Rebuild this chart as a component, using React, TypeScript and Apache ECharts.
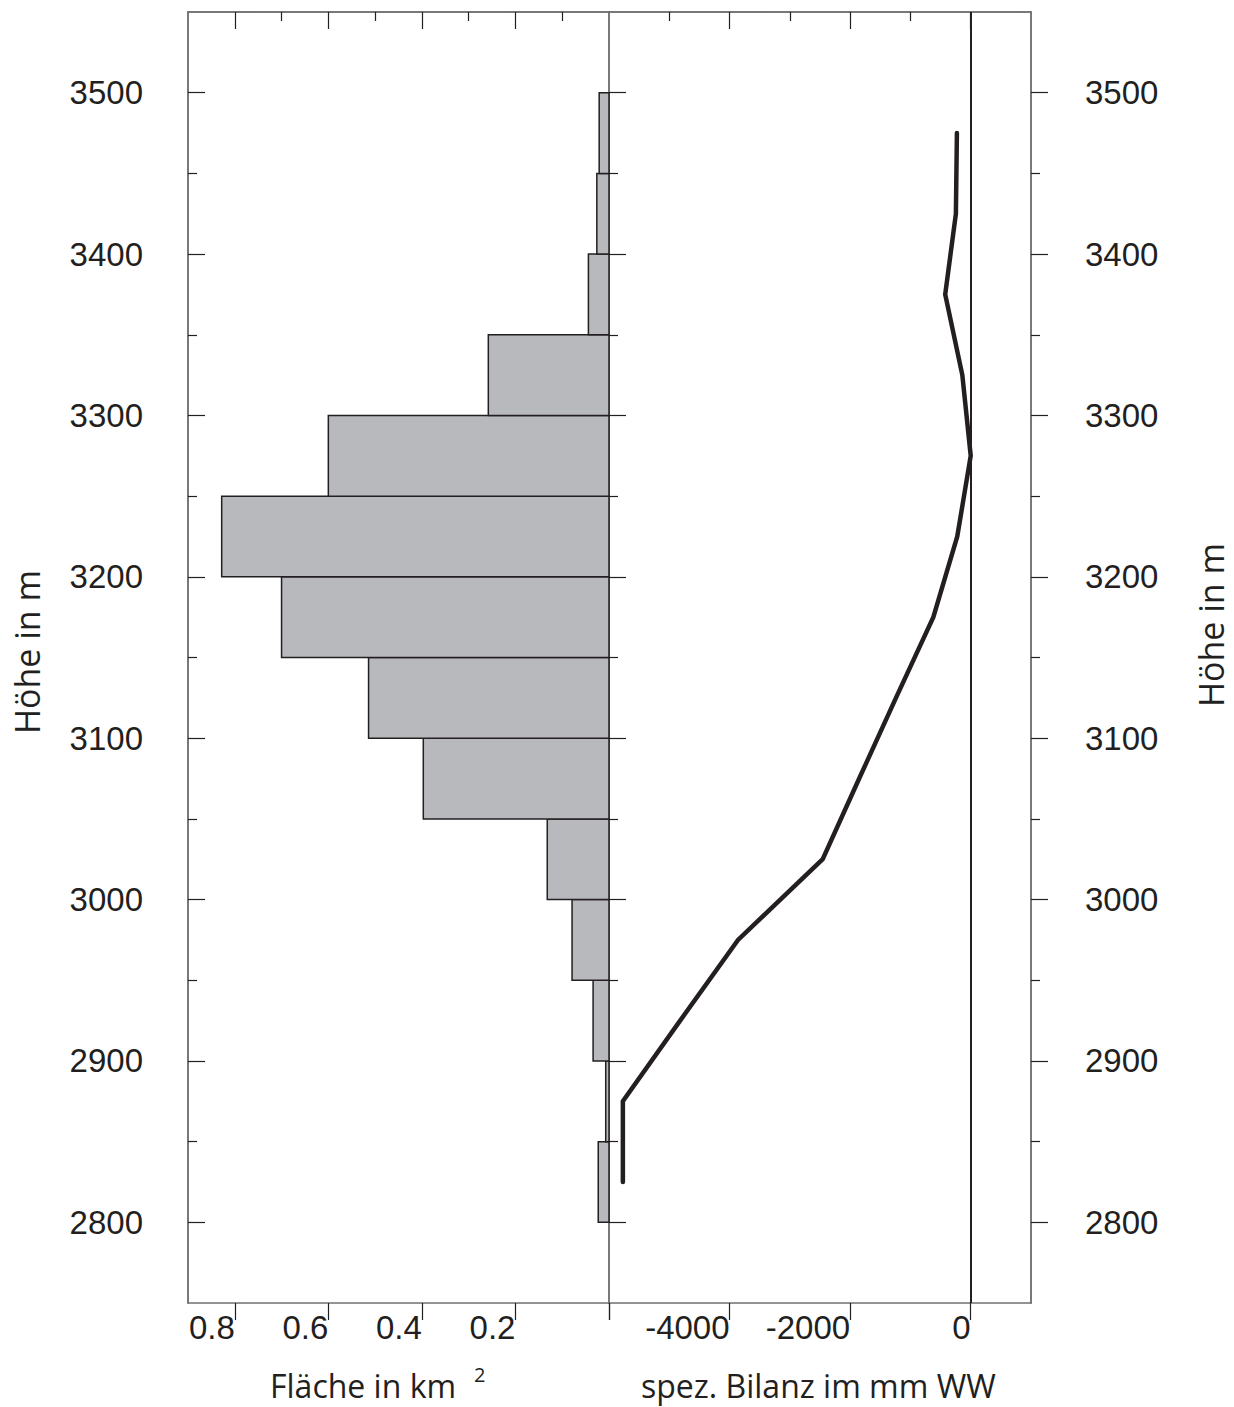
import React, { useEffect, useRef } from "react";
import * as echarts from "echarts";

// Height bins (lower edge, m); each bin spans 50 m
const binLower = [2800, 2850, 2900, 2950, 3000, 3050, 3100, 3150, 3200, 3250, 3300, 3350, 3400, 3450];
const binUpper = [2850, 2900, 2950, 3000, 3050, 3100, 3150, 3200, 3250, 3300, 3350, 3400, 3450, 3500];
// Area per bin (km²)
const areaValues = [0.023, 0.007, 0.034, 0.079, 0.132, 0.397, 0.514, 0.7, 0.828, 0.6, 0.258, 0.044, 0.026, 0.021];

// Specific balance (mm w.e.) at bin mid heights
const balanceHeights = [2825, 2875, 2925, 2975, 3025, 3075, 3125, 3175, 3225, 3275, 3325, 3375, 3425, 3475];
const balanceValues = [-5770, -5770, -4820, -3860, -2455, -1850, -1240, -620, -223, 0, -139, -423, -246, -229];

// Tick values
const heightMajor = [2800, 2900, 3000, 3100, 3200, 3300, 3400, 3500];
const heightMinor = [2850, 2950, 3050, 3150, 3250, 3350, 3450];
const areaLabels = [0.2, 0.4, 0.6, 0.8];
const areaMajorTicks = [0, 0.2, 0.4, 0.6, 0.8];
const areaMinorTicks = [0.1, 0.3, 0.5, 0.7];
const balanceLabels = [-4000, -2000, 0];
const balanceMajorTicks = [-6000, -4000, -2000, 0];
const balanceTopMajor = [-4000, -2000, 0];
const balanceMinorTicks = [-5000, -3000, -1000];

const INK = "#231f20";
const FRAME = "#707070";
const NUMFONT = "Liberation Sans";
const TITLEFONT = "Open Sans";

export default function App() {
  const ref = useRef<HTMLDivElement>(null);

  useEffect(() => {
    if (!ref.current) return;
    const chart = echarts.init(ref.current, undefined, { renderer: "svg" });

    const axisLine = { show: true, onZero: false, lineStyle: { color: FRAME, width: 1.5 } };
    const tickStyle = { color: INK, width: 1.2 };
    const numLabel = { fontSize: 33, fontFamily: NUMFONT, color: INK };

    const xBase = (grid: number, min: number, max: number, inverse: boolean) => ({
      type: "value",
      gridIndex: grid,
      min,
      max,
      inverse,
      splitLine: { show: false },
      axisLine,
    });

    const yBase = (grid: number) => ({
      type: "value",
      gridIndex: grid,
      min: 2750,
      max: 3550,
      splitLine: { show: false },
      axisLine,
    });

    const option: any = {
      animation: false,
      backgroundColor: "#ffffff",
      grid: [
        { left: 188, right: 1234 - 609, top: 12, bottom: 1407 - 1303 },
        { left: 609, right: 1234 - 1031, top: 12, bottom: 1407 - 1303 },
      ],
      xAxis: [
        {
          ...xBase(0, 0, 0.9, true),
          position: "bottom",
          axisTick: { show: true, inside: false, length: 17, customValues: areaMajorTicks, lineStyle: tickStyle },
          axisLabel: {
            ...numLabel,
            customValues: areaLabels,
            align: "right",
            margin: 8,
            formatter: (v: number) => v.toFixed(1),
          },
        },
        {
          ...xBase(0, 0, 0.9, true),
          position: "top",
          axisTick: { show: true, inside: true, length: 17, customValues: areaLabels, lineStyle: tickStyle },
          axisLabel: { show: false },
        },
        {
          ...xBase(0, 0, 0.9, true),
          position: "top",
          axisTick: { show: true, inside: true, length: 9, customValues: areaMinorTicks, lineStyle: tickStyle },
          axisLabel: { show: false },
        },
        {
          ...xBase(1, -6000, 1000, false),
          position: "bottom",
          axisTick: { show: true, inside: false, length: 17, customValues: balanceMajorTicks, lineStyle: tickStyle },
          axisLabel: {
            ...numLabel,
            customValues: balanceLabels,
            align: "right",
            margin: 8,
            formatter: (v: number) => String(v),
          },
        },
        {
          ...xBase(1, -6000, 1000, false),
          position: "top",
          axisTick: { show: true, inside: true, length: 17, customValues: balanceTopMajor, lineStyle: tickStyle },
          axisLabel: { show: false },
        },
        {
          ...xBase(1, -6000, 1000, false),
          position: "top",
          axisTick: { show: true, inside: true, length: 9, customValues: balanceMinorTicks, lineStyle: tickStyle },
          axisLabel: { show: false },
        },
      ],
      yAxis: [
        {
          ...yBase(0),
          position: "left",
          axisTick: { show: true, inside: true, length: 17, customValues: heightMajor, lineStyle: tickStyle },
          axisLabel: { ...numLabel, customValues: heightMajor, margin: 45, formatter: (v: number) => String(v) },
        },
        {
          ...yBase(0),
          position: "left",
          axisTick: { show: true, inside: true, length: 9, customValues: heightMinor, lineStyle: tickStyle },
          axisLabel: { show: false },
        },
        {
          ...yBase(1),
          position: "left",
          axisTick: { show: true, inside: true, length: 17, customValues: heightMajor, lineStyle: tickStyle },
          axisLabel: { show: false },
        },
        {
          ...yBase(1),
          position: "left",
          axisTick: { show: true, inside: true, length: 9, customValues: heightMinor, lineStyle: tickStyle },
          axisLabel: { show: false },
        },
        {
          ...yBase(1),
          position: "right",
          axisTick: { show: true, inside: false, length: 17, customValues: heightMajor, lineStyle: tickStyle },
          axisLabel: { ...numLabel, customValues: heightMajor, margin: 54, formatter: (v: number) => String(v) },
        },
        {
          ...yBase(1),
          position: "right",
          axisTick: { show: true, inside: false, length: 9, customValues: heightMinor, lineStyle: tickStyle },
          axisLabel: { show: false },
        },
      ],
      series: [
        {
          type: "custom",
          xAxisIndex: 0,
          yAxisIndex: 0,
          encode: { x: 2, y: [0, 1] },
          data: binLower.map((lo, i) => [lo, binUpper[i], areaValues[i]]),
          renderItem: (params: any, api: any) => {
            const lo = api.value(0);
            const hi = api.value(1);
            const a = api.value(2);
            const p0 = api.coord([0, lo]);
            const p1 = api.coord([a, hi]);
            return {
              type: "rect",
              shape: {
                x: Math.min(p0[0], p1[0]),
                y: Math.min(p0[1], p1[1]),
                width: Math.abs(p1[0] - p0[0]),
                height: Math.abs(p1[1] - p0[1]),
              },
              style: { fill: "#b8b9bd", stroke: INK, lineWidth: 1.5 },
            };
          },
        },
        {
          type: "line",
          xAxisIndex: 3,
          yAxisIndex: 2,
          data: balanceValues.map((b, i) => [b, balanceHeights[i]]),
          symbol: "none",
          lineStyle: { color: INK, width: 4.5, cap: "round", join: "miter" },
          markLine: {
            silent: true,
            symbol: ["none", "none"],
            label: { show: false },
            lineStyle: { color: INK, width: 2, type: "solid" },
            data: [{ xAxis: 0 }],
          },
          z: 5,
        },
      ],
      graphic: [
        {
          type: "text",
          x: 27,
          y: 652,
          rotation: Math.PI / 2,
          style: {
            text: "Höhe in m",
            fontSize: 34,
            fontFamily: TITLEFONT,
            fill: INK,
            align: "center",
            verticalAlign: "middle",
          },
        },
        {
          type: "text",
          x: 1211,
          y: 625,
          rotation: Math.PI / 2,
          style: {
            text: "Höhe in m",
            fontSize: 34,
            fontFamily: TITLEFONT,
            fill: INK,
            align: "center",
            verticalAlign: "middle",
          },
        },
        {
          type: "text",
          x: 270,
          y: 1385,
          style: {
            text: "Fläche in km",
            fontSize: 32,
            fontFamily: TITLEFONT,
            fill: INK,
            align: "left",
            verticalAlign: "middle",
          },
        },
        {
          type: "text",
          x: 474,
          y: 1374,
          style: {
            text: "2",
            fontSize: 20,
            fontFamily: TITLEFONT,
            fill: INK,
            align: "left",
            verticalAlign: "middle",
          },
        },
        {
          type: "text",
          x: 641,
          y: 1385,
          style: {
            text: "spez. Bilanz im mm WW",
            fontSize: 32,
            fontFamily: TITLEFONT,
            fill: INK,
            align: "left",
            verticalAlign: "middle",
          },
        },
      ],
    };

    chart.setOption(option);
    return () => chart.dispose();
  }, []);

  return (
    <div
      ref={ref}
      style={{ position: "absolute", left: 0, top: 0, width: 1234, height: 1407, overflow: "hidden" }}
    />
  );
}
